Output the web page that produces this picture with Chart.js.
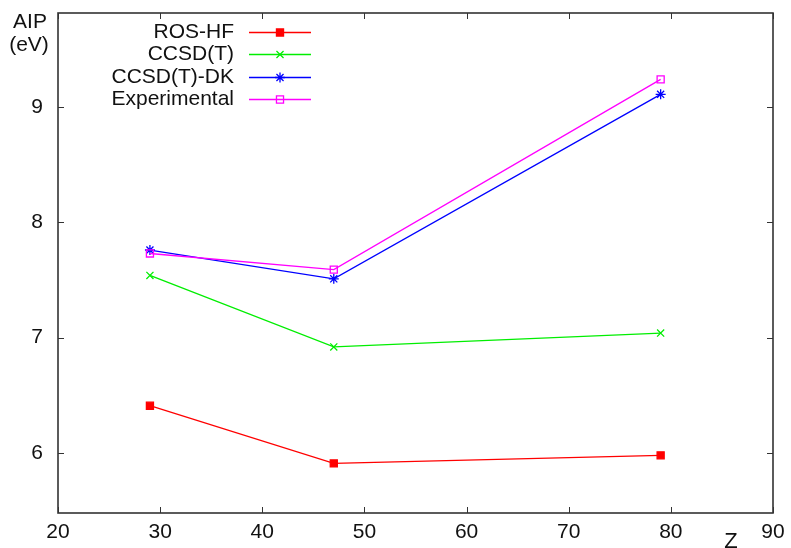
<!DOCTYPE html>
<html><head><meta charset="utf-8">
<script src="https://cdn.jsdelivr.net/npm/chart.js@4"></script>
<style>html,body{margin:0;padding:0;background:#fff;overflow:hidden}</style>
</head><body>
<canvas id="c" width="791" height="548"></canvas>
<script>
const zValues = [29, 47, 79];
const seriesNames = ['ROS-HF', 'CCSD(T)', 'CCSD(T)-DK', 'Experimental'];
const rosHF = [6.41, 5.91, 5.98];
const ccsdT = [7.54, 6.92, 7.04];
const ccsdTDK = [7.76, 7.51, 9.11];
const experimental = [7.73, 7.59, 9.24];
const xTickValues = [20, 30, 40, 50, 60, 70, 80, 90];
const yTickValues = [6, 7, 8, 9];
const yAxisTitle = ['AIP', '(eV)'];
const xAxisTitle = 'Z';

const FONT = '"Liberation Sans", Arial, Helvetica, sans-serif';
const colors = ['#ff0000', '#00ee00', '#0000ff', '#ff00ff'];
const styles = [
  {pointStyle: 'rect', filled: true, radius: 5},
  {pointStyle: 'crossRot', filled: false, radius: 5},
  {pointStyle: 'star', filled: false, radius: 5},
  {pointStyle: 'rect', filled: false, radius: 5}
];
const allSeries = [rosHF, ccsdT, ccsdTDK, experimental];

const datasets = allSeries.map((vals, i) => ({
  label: seriesNames[i],
  data: vals.map((v, j) => ({x: zValues[j], y: v})),
  borderColor: colors[i],
  backgroundColor: styles[i].filled ? colors[i] : 'rgba(0,0,0,0)',
  pointBorderColor: colors[i],
  pointBackgroundColor: styles[i].filled ? colors[i] : 'rgba(0,0,0,0)',
  pointStyle: styles[i].pointStyle,
  pointRadius: styles[i].radius,
  pointBorderWidth: 1.3,
  borderWidth: 1.3,
  fill: false,
  tension: 0,
  order: 3 - i
}));

const decor = {
  id: 'decor',
  afterDraw(chart) {
    const ctx = chart.ctx;
    const a = chart.chartArea;
    const xs = chart.scales.x, ys = chart.scales.y;
    ctx.save();
    ctx.strokeStyle = '#333';
    ctx.lineWidth = 1.6;
    ctx.strokeRect(a.left, a.top, a.right - a.left, a.bottom - a.top);
    ctx.lineWidth = 1;
    const tl = 6;
    ctx.beginPath();
    xTickValues.forEach(v => {
      const px = Math.round(xs.getPixelForValue(v)) + 0.5;
      ctx.moveTo(px, a.bottom); ctx.lineTo(px, a.bottom - tl);
      ctx.moveTo(px, a.top); ctx.lineTo(px, a.top + tl);
    });
    yTickValues.forEach(v => {
      const py = Math.round(ys.getPixelForValue(v)) + 0.5;
      ctx.moveTo(a.left, py); ctx.lineTo(a.left + tl, py);
      ctx.moveTo(a.right, py); ctx.lineTo(a.right - tl, py);
    });
    ctx.stroke();
    ctx.fillStyle = '#111';
    ctx.font = '21px ' + FONT;
    ctx.textAlign = 'center';
    ctx.textBaseline = 'middle';
    ctx.fillText(yAxisTitle[0], 30, 22);
    ctx.fillText(yAxisTitle[1], 29, 45);
    ctx.font = '22px ' + FONT;
    ctx.fillText(xAxisTitle, 731, 542);
    const rows = [32, 54, 77, 99];
    ctx.font = '21px ' + FONT;
    ctx.textAlign = 'right';
    chart.data.datasets.forEach((ds, i) => {
      const y = rows[i];
      ctx.fillStyle = '#111';
      ctx.fillText(ds.label, 234, y);
      ctx.strokeStyle = ds.borderColor;
      ctx.lineWidth = 1.3;
      ctx.beginPath();
      ctx.moveTo(249, y + 0.5); ctx.lineTo(311, y + 0.5);
      ctx.stroke();
      ctx.fillStyle = ds.pointBackgroundColor;
      ctx.strokeStyle = ds.pointBorderColor;
      Chart.helpers.drawPoint(ctx, {pointStyle: ds.pointStyle, radius: ds.pointRadius, rotation: 0, borderWidth: 1.3}, 280, y + 0.5);
    });
    ctx.restore();
  }
};

new Chart(document.getElementById('c'), {
  type: 'line',
  data: {datasets},
  options: {
    responsive: false,
    animation: false,
    devicePixelRatio: 1,
    layout: {padding: {top: 13, right: 18, left: 0, bottom: 0}},
    plugins: {legend: {display: false}, tooltip: {enabled: false}},
    scales: {
      x: {
        type: 'linear', min: 20, max: 90,
        afterBuildTicks: s => { s.ticks = xTickValues.map(v => ({value: v})); },
        afterFit: s => { s.height = 35; s.paddingLeft = 0; s.paddingRight = 0; },
        grid: {display: false, drawTicks: false},
        border: {display: false},
        ticks: {color: '#111', font: {family: FONT, size: 21}, padding: 7, maxRotation: 0, autoSkip: false}
      },
      y: {
        type: 'linear', min: 5.48, max: 9.815,
        afterBuildTicks: s => { s.ticks = yTickValues.map(v => ({value: v})); },
        afterFit: s => { s.width = 58; s.paddingTop = 0; s.paddingBottom = 0; },
        grid: {display: false, drawTicks: false},
        border: {display: false},
        ticks: {color: '#111', font: {family: FONT, size: 21}, padding: 15, autoSkip: false}
      }
    }
  },
  plugins: [decor]
});
</script>
</body></html>
